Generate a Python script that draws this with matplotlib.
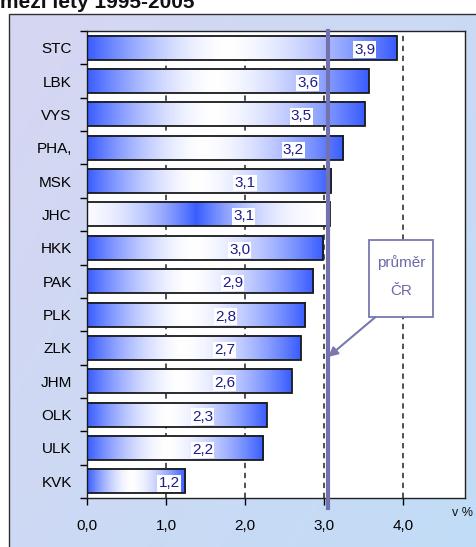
import numpy as np
import matplotlib.pyplot as plt
from matplotlib.patches import Rectangle

# data
regions = ['STC', 'LBK', 'VYS', 'PHA,', 'MSK', 'JHC', 'HKK', 'PAK', 'PLK', 'ZLK', 'JHM', 'OLK', 'ULK', 'KVK']
values = [3.92, 3.56, 3.51, 3.24, 3.09, 3.07, 2.99, 2.86, 2.76, 2.70, 2.59, 2.27, 2.23, 1.24]
label_shift = [-0.41, -0.77, -0.80, -0.63, -1.09, -1.09, -1.06, -1.02, -1.01, -0.96, -0.85, -0.81, -0.77, -0.20]
highlight = 'JHC'
avg_cr = 3.05
xticks = [0, 1, 2, 3, 4]

W, H = 477, 547
fig = plt.figure(figsize=(W / 100, H / 100), dpi=100)
plt.rcParams['font.family'] = ['Liberation Sans', 'DejaVu Sans']

# background of the chart area (soft blue/lilac)
bg = fig.add_axes([0, 0, 1, 1], zorder=-5)
gx = np.linspace(0, 1, 200)
gy = np.linspace(0, 1, 200)
GX, GY = np.meshgrid(gx, gy)
c1 = np.array([0.84, 0.84, 0.95])
c2 = np.array([0.74, 0.87, 0.97])
t = (0.6 * GX + 0.4 * GY)[..., None]
img = c1 * (1 - t) + c2 * t
bg.imshow(img, extent=[9 / W, 1.2, -0.2, 1 - 14 / H], aspect='auto', origin='upper')
bg.add_patch(Rectangle((9 / W, -0.2), 1, 1.2 - 14 / H, fill=False, ec='#303030', lw=1.0))
bg.set_xlim(0, 1)
bg.set_ylim(0, 1)
bg.axis('off')

# title line, partly cut off at the top like in the source image
fig.text(0.0, 1 - 8 / H, 'mezi lety 1995-2005', fontsize=15, fontweight='bold',
         va='baseline', ha='left', color='#111111')

L, R, T, B = 87, 465, 31, 498
ax = fig.add_axes([L / W, 1 - B / H, (R - L) / W, (B - T) / H])
ax.set_facecolor('white')

blue = np.array([0.22, 0.36, 1.0])
white = np.array([1.0, 1.0, 1.0])
tt = np.linspace(0, 1, 300)
c = 0.45
d = np.where(tt < c, (c - tt) / c, (tt - c) / (1 - c))
s = 1 - d ** 1.6
grad_norm = blue * (1 - s[:, None]) + white * s[:, None]
s2 = 1 - np.abs(tt - 0.45) / 0.55
s2 = np.clip(s2, 0, 1) ** 2.2
grad_hl = white * (1 - s2[:, None]) + blue * s2[:, None]

n = len(regions)
h = 0.72
for i, (name, v) in enumerate(zip(regions, values)):
    g = grad_hl if name == highlight else grad_norm
    ax.imshow(g[None, :, :], extent=[0, v, i + h / 2, i - h / 2], aspect='auto',
              zorder=2, interpolation='bilinear')
    ax.add_patch(Rectangle((0, i - h / 2), v, h, fill=False, ec='#1a1a1a', lw=1.3, zorder=3))
    ax.text(v + label_shift[i], i + 0.06, f'{v:.1f}'.replace('.', ','), ha='center', va='center',
            fontsize=11, color='#1c1c8c', zorder=4,
            bbox=dict(boxstyle='square,pad=0.08', fc='white', ec='none'))

ax.set_xlim(0, 4.78)
ax.set_ylim(n - 0.5, -0.5)

for x in xticks[1:]:
    ax.axvline(x, color='#222222', lw=1.1, ls=(0, (3.5, 3)), zorder=1)

ax.set_xticks(xticks)
ax.set_xticklabels([f'{x:.1f}'.replace('.', ',') for x in xticks], fontsize=11)
ax.set_yticks(range(n))
ax.set_yticklabels(regions, fontsize=11)
ax.set_yticks(np.arange(-0.5, n, 1), minor=True)
ax.tick_params(axis='y', which='major', length=0, pad=11)
ax.tick_params(axis='y', which='minor', length=5, width=1, direction='out')
ax.tick_params(axis='x', length=5, width=1, direction='out', pad=10)
for sp in ax.spines.values():
    sp.set_linewidth(1.0)
    sp.set_color('#222222')

# average line for CR
ax.plot([avg_cr, avg_cr], [-0.5, n - 0.5 + 0.3], color='#7272b0', lw=3, zorder=5, clip_on=False)

# callout box
ax.add_patch(Rectangle((3.56, 5.76), 0.82, 2.31, fc='white', ec='#7878b0', lw=1.3, zorder=6))
ax.text(3.97, 6.44, 'průměr', ha='center', va='center', fontsize=11, color='#6a6aa8', zorder=7)
ax.text(3.97, 7.3, 'ČR', ha='center', va='center', fontsize=11, color='#6a6aa8', zorder=7)
ax.annotate('', xy=(avg_cr, 9.27), xytext=(3.65, 8.07),
            arrowprops=dict(arrowstyle='-|>', color='#7878b0', lw=1.5,
                            shrinkA=0, shrinkB=0, mutation_scale=14),
            zorder=6)

fig.text(463 / W, 1 - 513 / H, 'v %', fontsize=9, ha='center', va='center', color='#111111')

fig.savefig('out.png', dpi=100)
